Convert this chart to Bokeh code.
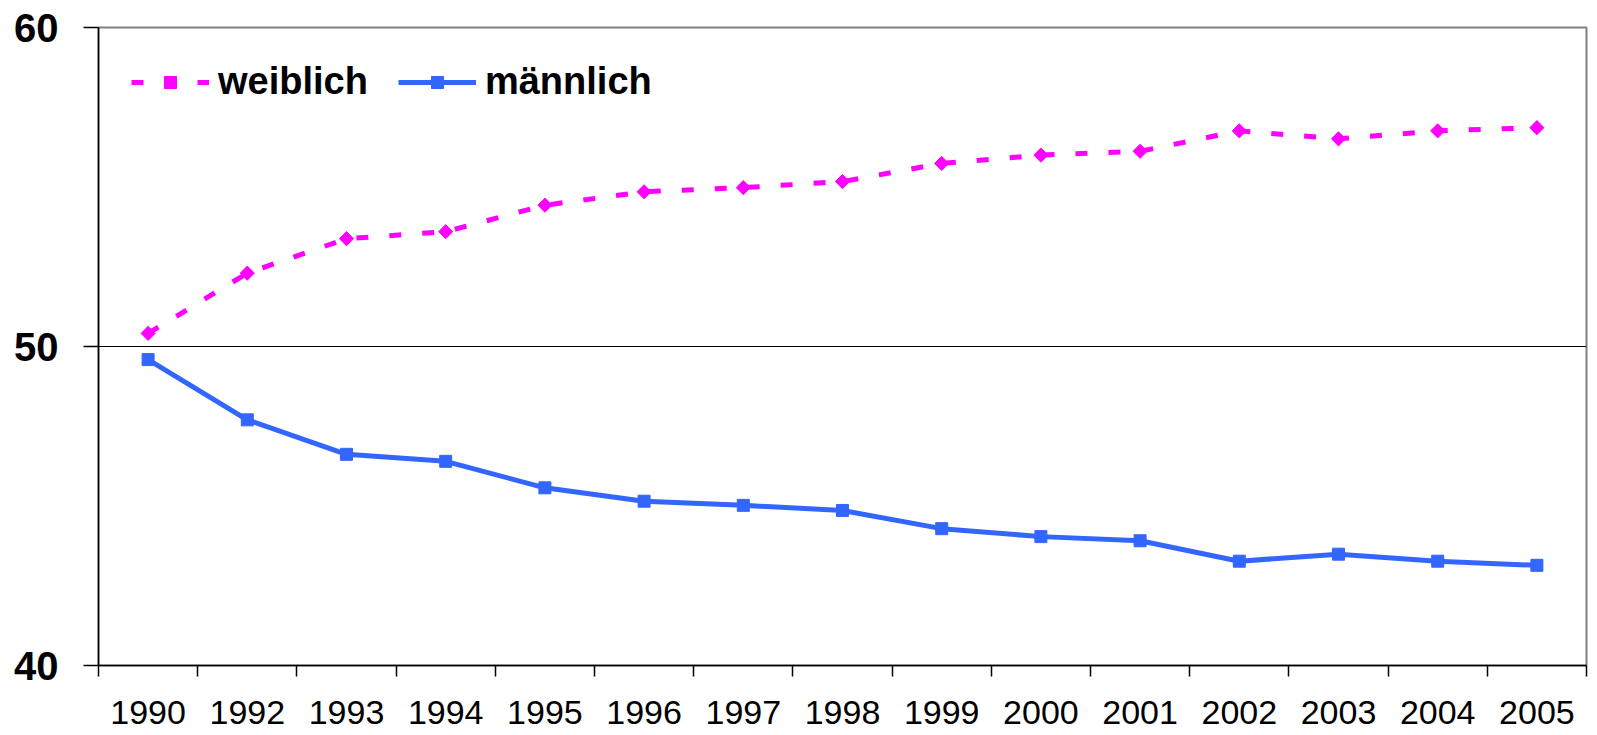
import math
from bokeh.plotting import figure
from bokeh.models import Range1d, FixedTicker, Legend, LegendItem
from bokeh.embed import file_html
from bokeh.resources import INLINE

years = ["1990", "1992", "1993", "1994", "1995", "1996", "1997", "1998",
         "1999", "2000", "2001", "2002", "2003", "2004", "2005"]
weiblich = [50.41, 52.30, 53.38, 53.60, 54.43, 54.85, 54.98, 55.17,
            55.74, 56.00, 56.12, 56.76, 56.51, 56.76, 56.86]
maennlich = [49.59, 47.70, 46.62, 46.40, 45.57, 45.15, 45.02, 44.86,
             44.29, 44.04, 43.91, 43.27, 43.49, 43.27, 43.14]
y_ticks = [40, 50, 60]

n = len(years)
x = [i + 0.5 for i in range(n)]

FONT = "Liberation Sans"

p = figure(width=1597, height=735, output_backend="svg", toolbar_location=None,
           x_range=Range1d(0, n), y_range=Range1d(40, 60),
           min_border_left=98, min_border_right=11, min_border_top=27,
           min_border_bottom=70)

p.background_fill_color = "white"
p.border_fill_color = "white"
p.outline_line_color = "#808080"
p.outline_line_width = 2

# x axis: labels at category centers, ticks at category boundaries
xa = p.xaxis[0]
xa.ticker = FixedTicker(ticks=x, minor_ticks=list(range(n + 1)))
xa.major_label_overrides = {xi: yr for xi, yr in zip(x, years)}
xa.major_label_text_font = FONT
xa.major_label_text_font_size = "34px"
xa.major_label_text_color = "black"
xa.major_label_standoff = 24
xa.major_tick_out = 0
xa.major_tick_in = 0
xa.major_tick_line_alpha = 0
xa.minor_tick_out = 11
xa.minor_tick_in = 0
xa.minor_tick_line_color = "black"
xa.minor_tick_line_width = 1.5
xa.axis_line_color = "black"
xa.axis_line_width = 1.5

ya = p.yaxis[0]
ya.ticker = FixedTicker(ticks=y_ticks)
ya.major_label_text_font = FONT
ya.major_label_text_font_size = "40px"
ya.major_label_text_font_style = "bold"
ya.major_label_text_color = "black"
ya.major_label_standoff = 25
ya.major_tick_out = 15
ya.major_tick_in = 0
ya.minor_tick_out = 0
ya.minor_tick_in = 0
ya.axis_line_color = "black"
ya.axis_line_width = 1.5
ya.major_tick_line_color = "black"
ya.major_tick_line_width = 1.5

p.xgrid.visible = False
p.ygrid.ticker = FixedTicker(ticks=[50])
p.ygrid.grid_line_color = "black"
p.ygrid.grid_line_width = 1.2

r1 = p.line(x, weiblich, line_color="#FF00FF", line_width=5, line_dash="12 21")
s1 = p.scatter(x, weiblich, marker="square", size=10, angle=math.pi / 4,
               color="#FF00FF")
r2 = p.line(x, maennlich, line_color="#3366FF", line_width=5)
s2 = p.scatter(x, maennlich, marker="square", size=12, color="#3366FF")

legend = Legend(items=[LegendItem(label="weiblich", renderers=[r1, s1]),
                       LegendItem(label="männlich", renderers=[r2, s2])],
                orientation="horizontal", location="top_left",
                label_text_font=FONT, label_text_font_size="38px",
                label_text_font_style="bold", label_text_color="black",
                glyph_width=78, glyph_height=30, label_standoff=9,
                spacing=30, margin=23, padding=10,
                border_line_alpha=0, background_fill_alpha=0)
p.add_layout(legend)

open("out.html", "w").write(file_html(p, INLINE))
